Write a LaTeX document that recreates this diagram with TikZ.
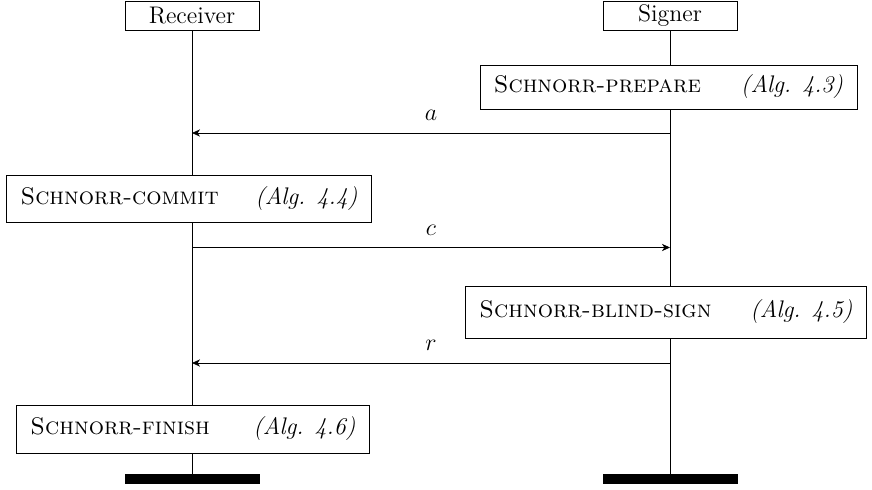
\documentclass[12pt,tikz,border=0pt]{standalone}
\usetikzlibrary{calc,arrows.meta}
\begin{document}
\begin{tikzpicture}[x=1pt,y=1pt,
  actor/.style={draw, minimum width=67pt, minimum height=14.5pt, inner sep=0pt},
  algbox/.style={draw, fill=white, inner xsep=7pt, inner ysep=0pt},
  msg/.style={-{Stealth[length=4pt, width=3.6pt, inset=1.2pt]}},
  msglabel/.style={anchor=base, inner sep=0pt, yshift=6.2pt},
  endbar/.style={fill=black, minimum width=67.5pt, minimum height=5pt, inner sep=0pt}]
\useasboundingbox (0,0) rectangle (436,-245);

% participants
\node[actor] (recv) at (96,-7.75) {Receiver};
\node[actor] (sign) at (335,-7.75) {Signer};

% algorithm steps
\node[algbox, minimum height=22pt] (prep) at (334.25,-43.5)
  {\textsc{Schnorr-prepare}\hspace{20pt}\textit{(Alg. 4.3)}};
\node[algbox, minimum height=23.5pt] (commit) at (94.5,-99.5)
  {\textsc{Schnorr-commit}\hspace{18.2pt}\textit{(Alg. 4.4)}};
\node[algbox, minimum height=26pt] (blind) at (333,-156)
  {\textsc{Schnorr-blind-sign}\hspace{19.4pt}\textit{(Alg. 4.5)}};
\node[algbox, minimum height=24pt] (finish) at (96.5,-214.5)
  {\textsc{Schnorr-finish}\hspace{21.8pt}\textit{(Alg. 4.6)}};

% end markers
\node[endbar] (recvend) at (96,-239.5) {};
\node[endbar] (signend) at (335,-239.5) {};

% lifelines
\draw (recv) -- (recv |- commit.north);
\draw (recv |- commit.south) -- (recv |- finish.north);
\draw (recv |- finish.south) -- (recvend);
\draw (sign) -- (sign |- prep.north);
\draw (sign |- prep.south) -- (sign |- blind.north);
\draw (sign |- blind.south) -- (signend);

% messages
\coordinate (aS) at (335,-66.5);
\coordinate (aR) at (96,-66.5);
\coordinate (cR) at (96,-123.75);
\coordinate (cS) at (335,-123.75);
\coordinate (rS) at (335,-181.5);
\coordinate (rR) at (96,-181.5);
\draw[msg] (aS) -- node[msglabel] {$a$} (aR);
\draw[msg] (cR) -- node[msglabel] {$c$} (cS);
\draw[msg] (rS) -- node[msglabel] {$r$} (rR);
\end{tikzpicture}
\end{document}
